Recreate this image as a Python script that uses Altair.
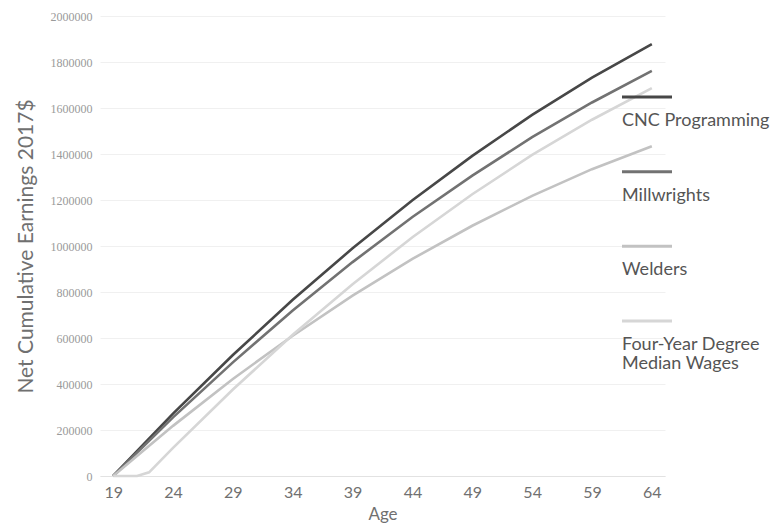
import altair as alt
import pandas as pd

# ---- data ----
series_names = ["CNC Programming", "Millwrights", "Welders", "Four-Year Degree\nMedian Wages"]
series_colors = ["#474747", "#727272", "#c2c2c2", "#d6d6d6"]
legend_slots = [0, 1, 2, 3]

ages = [19, 24, 29, 34, 39, 44, 49, 54, 59, 64]
cnc = [0, 271000, 526000, 766000, 990000, 1199000, 1392000, 1570000, 1732000, 1878000]
millwrights = [0, 255000, 494000, 720000, 930000, 1126000, 1306000, 1473000, 1624000, 1761000]
welders = [0, 218000, 422000, 610000, 784000, 944000, 1088000, 1218000, 1334000, 1434000]

degree_ages = [19, 20, 21, 22, 24, 29, 34, 39, 44, 49, 54, 59, 64]
degree = [0, 0, 0, 16000, 122000, 376000, 614000, 834000, 1038000, 1225000, 1396000, 1549000, 1686000]

x_ticks = [19, 24, 29, 34, 39, 44, 49, 54, 59, 64]
y_ticks = [0, 200000, 400000, 600000, 800000, 1000000, 1200000, 1400000, 1600000, 1800000, 2000000]

rows = []
for name, xs, ys in [
    (series_names[0], ages, cnc),
    (series_names[1], ages, millwrights),
    (series_names[2], ages, welders),
    (series_names[3], degree_ages, degree),
]:
    for a, v in zip(xs, ys):
        rows.append({"series": name, "age": a, "earnings": v})
df = pd.DataFrame(rows)
legend_df = pd.DataFrame({"series": series_names, "slot": legend_slots})

FONT = "Lato"

color = alt.Color("series:N", scale=alt.Scale(domain=series_names, range=series_colors), legend=None)

lines = alt.Chart(df).mark_line(strokeWidth=2.6, interpolate="linear").encode(
    x=alt.X("age:Q",
            scale=alt.Scale(domain=[17.9, 65.1], nice=False, zero=False),
            axis=alt.Axis(values=x_ticks, title="Age", grid=False, ticks=False,
                          labelFontSize=16, labelColor="#707070", labelFont=FONT,
                          labelPadding=8, titleFontSize=17, titleFont=FONT,
                          titleColor="#707070", titleFontWeight="normal", titlePadding=6,
                          domainColor="#e2e2e2")),
    y=alt.Y("earnings:Q",
            scale=alt.Scale(domain=[0, 2000000], nice=False),
            axis=alt.Axis(values=y_ticks, format="d", title="Net Cumulative Earnings 2017$",
                          grid=True, gridColor="#f0f0f0", ticks=False, domain=False,
                          labelFontSize=12, labelColor="#9a9a9a", labelFont="Liberation Serif",
                          labelPadding=8, titleFontSize=21, titleFont=FONT,
                          titleColor="#707070", titleFontWeight="normal", titlePadding=14)),
    color=color,
    detail="series:N",
)

legend_y = alt.Y("slot:Q", scale=alt.Scale(domain=[0, 3], range=[81, 305], nice=False, zero=False),
                 axis=None)

legend_rule = alt.Chart(legend_df).mark_rule(strokeWidth=3).encode(
    x=alt.value(522), x2=alt.value(572), y=legend_y, color=color,
)
legend_text = alt.Chart(legend_df).mark_text(
    align="left", baseline="top", dy=15, fontSize=18, font=FONT,
    color="#555555", lineBreak="\n", lineHeight=19,
).encode(
    x=alt.value(522), y=legend_y, text="series:N",
)

legend = alt.layer(legend_rule, legend_text)

chart = alt.layer(lines, legend).resolve_scale(
    y="independent", color="shared"
).properties(
    width=565, height=460,
    background="white",
    autosize=alt.AutoSizeParams(type="none"),
    padding={"left": 92, "top": 8, "right": 110, "bottom": 53},
).configure_view(stroke=None)

chart.save("out.html", embed_options={"renderer": "svg", "actions": False})
